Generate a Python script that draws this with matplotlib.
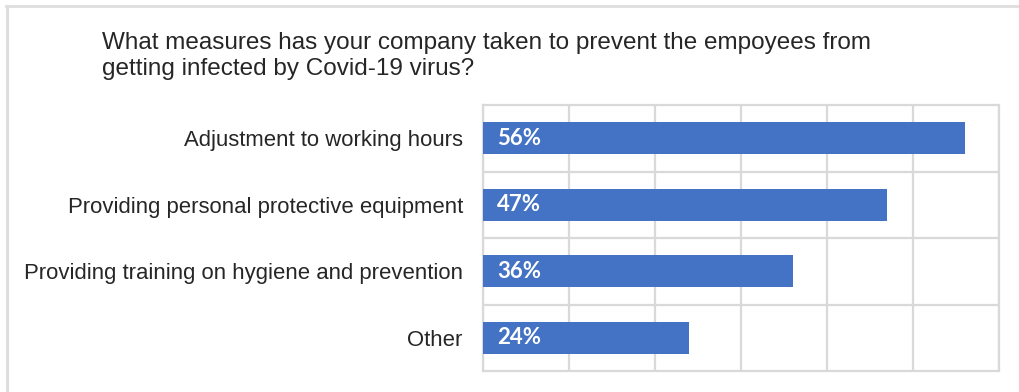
import matplotlib
matplotlib.use("Agg")
import matplotlib.pyplot as plt
from matplotlib.lines import Line2D

title = ("What measures has your company taken to prevent the empoyees from\n"
         "getting infected by Covid-19 virus?")
categories = [
    "Adjustment to working hours",
    "Providing personal protective equipment",
    "Providing training on hygiene and prevention",
    "Other",
]
shares = [56, 47, 36, 24]  # percent of respondents
x_ticks = [0, 10, 20, 30, 40, 50, 60]

W, H = 1019, 392
fig = plt.figure(figsize=(W / 100, H / 100), dpi=100)
fig.patch.set_facecolor("white")

# panel frame (top and left edge)
frame_color = "#dedede"
fig.add_artist(Line2D([6 / W, 1], [1 - 6 / H, 1 - 6 / H], color=frame_color, lw=2,
                      transform=fig.transFigure))
fig.add_artist(Line2D([7 / W, 7 / W], [0, 1 - 6 / H], color=frame_color, lw=2.2,
                      transform=fig.transFigure))

fig.text(102 / W, 1 - 32 / H, title, ha="left", va="top",
         fontsize=17.5, family="Liberation Sans", color="#262626", linespacing=1.22)

ax = fig.add_axes([483 / W, (H - 371) / H, (999 - 483) / W, (371 - 105) / H])
ypos = list(range(len(categories)))
ax.barh(ypos, shares, height=0.48, color="#4472C4", zorder=3)
ax.set_xlim(x_ticks[0], x_ticks[-1])
ax.set_ylim(len(categories) - 0.5, -0.5)
ax.set_xticks(x_ticks)
ax.set_xticklabels([])
ax.set_yticks([y + 0.5 for y in ypos[:-1]], minor=True)
ax.set_yticks(ypos)
ax.set_yticklabels(categories, fontsize=15.95, family="Liberation Sans", color="#262626")
ax.tick_params(axis="y", which="both", length=0, pad=14.5)
ax.tick_params(axis="x", length=0)
ax.grid(axis="x", color="#d9d9d9", lw=1.6, zorder=0)
ax.grid(axis="y", which="minor", color="#d9d9d9", lw=1.6, zorder=0)
for s in ax.spines.values():
    s.set_color("#d9d9d9")
    s.set_linewidth(1.6)

for y, v in zip(ypos, shares):
    ax.annotate(f"{v}%", xy=(0, y), xytext=(10, 0), textcoords="offset points",
                ha="left", va="center", color="white", fontsize=16,
                fontweight="bold", family="Lato", zorder=4)

fig.savefig("out.png", dpi=100, facecolor="white")
